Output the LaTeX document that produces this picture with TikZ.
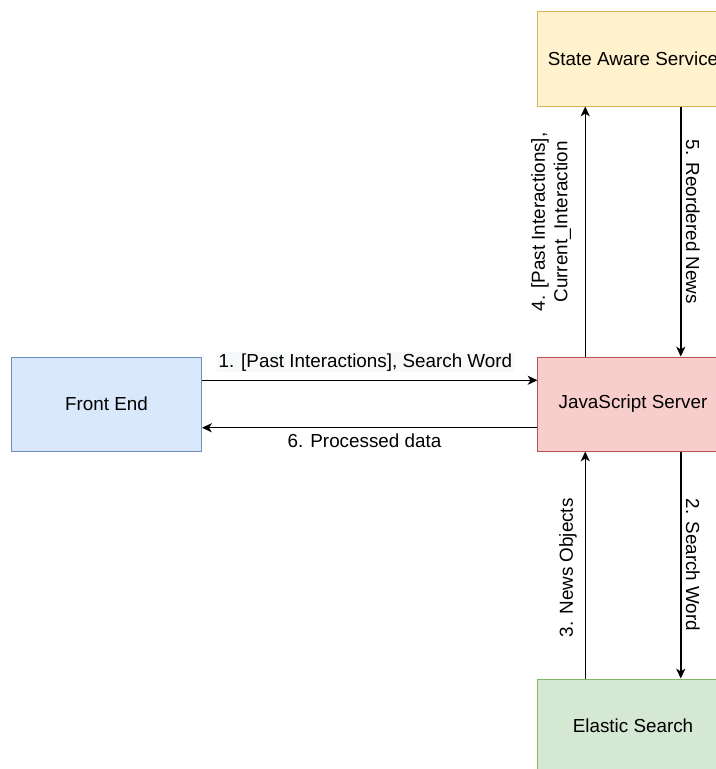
\documentclass[tikz,border=0pt]{standalone}
\usepackage{fontspec}
\setmainfont{Liberation Sans}
\usepackage{tikz}
\usepackage{xcolor}
\usetikzlibrary{calc, arrows.meta, positioning}

\definecolor{feFill}{HTML}{DAE8FC}\definecolor{feLine}{HTML}{6C8EBF}
\definecolor{jsFill}{HTML}{F8CECC}\definecolor{jsLine}{HTML}{B85450}
\definecolor{sasFill}{HTML}{FFF2CC}\definecolor{sasLine}{HTML}{D6B656}
\definecolor{esFill}{HTML}{D5E8D4}\definecolor{esLine}{HTML}{82B366}
\definecolor{lblBg}{HTML}{F8F9FA}

\tikzset{
  box/.style={draw, line width=0.7pt, minimum width=4.75cm, minimum height=2.35cm,
    font=\fontsize{13.4}{16}\selectfont},
  flow/.style={line width=1.05pt, -{Stealth[length=7pt,width=6.5pt,inset=2pt]}},
  lbl/.style={font=\fontsize{13.4}{16}\selectfont, inner sep=1pt}
}

\begin{document}
\begin{tikzpicture}[x=0.025cm, y=-0.025cm]
  \useasboundingbox (0,0) rectangle (716,769);
  \clip (0,0) rectangle (716,769);

  % boxes
  \node[box, fill=feFill, draw=feLine] (fe) at (106.5,404) {Front End};
  \node[box, fill=jsFill, draw=jsLine] (js) at (633,404) {JavaScript Server};
  \node[box, fill=sasFill, draw=sasLine] (sas) at (633,59) {State Aware Service};
  \node[box, fill=esFill, draw=esLine] (es) at (633,726) {Elastic Search};

  % front end <-> server
  \draw[flow] ($(fe.north east)!0.25!(fe.south east)$) -- ($(js.north west)!0.25!(js.south west)$)
    node[lbl, midway, fill=lblBg, xshift=-0.11cm, yshift=0.45cm] {1. [Past Interactions], Search Word};
  \draw[flow] ($(js.north west)!0.75!(js.south west)$) -- ($(fe.north east)!0.75!(fe.south east)$)
    node[lbl, midway, xshift=-0.13cm, yshift=-0.33cm] {6. Processed data};

  % server <-> state aware service
  \draw[flow] ($(js.north west)!0.25!(js.north east)$) -- ($(sas.south west)!0.25!(sas.south east)$)
    node[lbl, midway, rotate=90, align=center, xshift=0.24cm, yshift=0.85cm] {4. [Past Interactions],\\Current\_Interaction};
  \draw[flow] ($(sas.south west)!0.75!(sas.south east)$) -- ($(js.north west)!0.75!(js.north east)$)
    node[lbl, midway, rotate=-90, xshift=-0.24cm, yshift=0.3cm] {5. Reordered News};

  % server <-> elastic search
  \draw[flow] ($(js.south west)!0.75!(js.south east)$) -- ($(es.north west)!0.75!(es.north east)$)
    node[lbl, midway, rotate=-90, yshift=0.3cm] {2. Search Word};
  \draw[flow] ($(es.north west)!0.25!(es.north east)$) -- ($(js.south west)!0.25!(js.south east)$)
    node[lbl, midway, rotate=90, xshift=-0.07cm, yshift=0.43cm] {3. News Objects};
\end{tikzpicture}
\end{document}
